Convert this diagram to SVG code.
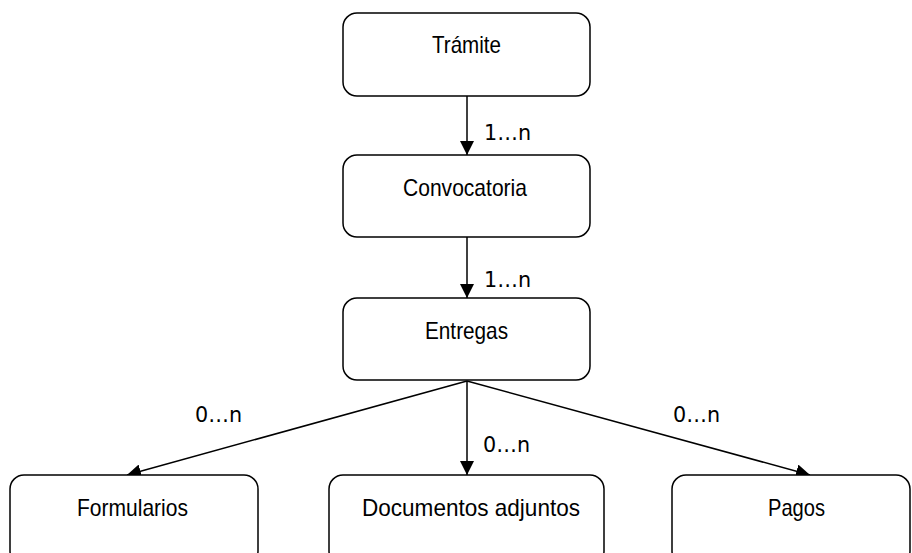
<svg xmlns="http://www.w3.org/2000/svg" width="912" height="553" viewBox="0 0 912 553">
  <style>
    .box { fill: #ffffff; stroke: #000000; stroke-width: 1.5; }
    .name { font-family: "Liberation Sans", Arial, sans-serif; font-size: 24px; fill: #000000; text-anchor: middle; }
    .card { font-family: "DejaVu Sans", sans-serif; font-size: 21px; fill: #000000; }
    .edge { stroke: #000000; stroke-width: 1.5; fill: none; marker-end: url(#arrow); }
  </style>
  <defs>
    <marker id="arrow" viewBox="0 0 14 14" refX="14" refY="7" markerWidth="14" markerHeight="14" markerUnits="userSpaceOnUse" orient="auto">
      <path d="M0,0 L14,7 L0,14 Z" fill="#000000"/>
    </marker>
  </defs>
  <rect width="912" height="553" fill="#ffffff"/>

  <g id="connectors">
    <line class="edge" x1="467" y1="96" x2="467" y2="155"/>
    <line class="edge" x1="467" y1="237" x2="467" y2="298"/>
    <line class="edge" x1="467" y1="381" x2="127" y2="475"/>
    <line class="edge" x1="467" y1="381" x2="467" y2="475"/>
    <line class="edge" x1="467" y1="381" x2="810" y2="475"/>
    <text class="card" x="484" y="140" textLength="47" lengthAdjust="spacingAndGlyphs">1…n</text>
    <text class="card" x="484" y="287" textLength="47" lengthAdjust="spacingAndGlyphs">1…n</text>
    <text class="card" x="195" y="422" textLength="47" lengthAdjust="spacingAndGlyphs">0…n</text>
    <text class="card" x="483" y="452" textLength="47" lengthAdjust="spacingAndGlyphs">0…n</text>
    <text class="card" x="673" y="422" textLength="47" lengthAdjust="spacingAndGlyphs">0…n</text>
  </g>

  <g id="tramite">
    <rect class="box" x="343" y="13" width="247" height="83" rx="14"/>
    <text class="name" x="466.5" y="53" textLength="69" lengthAdjust="spacingAndGlyphs">Trámite</text>
  </g>
  <g id="convocatoria">
    <rect class="box" x="343" y="155" width="247" height="82" rx="14"/>
    <text class="name" x="465" y="196" textLength="124" lengthAdjust="spacingAndGlyphs">Convocatoria</text>
  </g>
  <g id="entregas">
    <rect class="box" x="343" y="298" width="247" height="82" rx="14"/>
    <text class="name" x="466.5" y="339" textLength="83" lengthAdjust="spacingAndGlyphs">Entregas</text>
  </g>
  <g id="formularios">
    <rect class="box" x="10" y="475" width="248" height="90" rx="14"/>
    <text class="name" x="132.5" y="516" textLength="111" lengthAdjust="spacingAndGlyphs">Formularios</text>
  </g>
  <g id="documentos">
    <rect class="box" x="329" y="475" width="275" height="90" rx="14"/>
    <text class="name" x="471" y="516" textLength="218" lengthAdjust="spacingAndGlyphs">Documentos adjuntos</text>
  </g>
  <g id="pagos">
    <rect class="box" x="672" y="475" width="238" height="90" rx="14"/>
    <text class="name" x="796.5" y="516" textLength="57" lengthAdjust="spacingAndGlyphs">Pagos</text>
  </g>
</svg>
